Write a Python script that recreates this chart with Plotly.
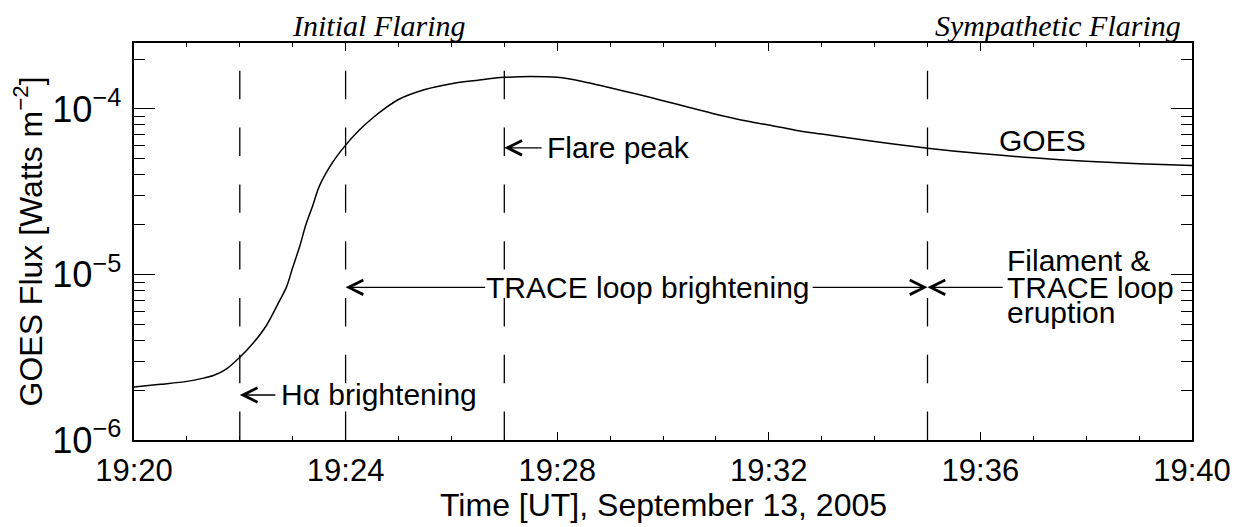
import numpy as np
import plotly.graph_objects as go

DATE = "2005-09-13 "

# GOES light curve (UT time, flux in W m^-2)
times = ["19:20:00", "19:20:30", "19:21:00", "19:21:15", "19:21:30", "19:21:45",
         "19:22:00", "19:22:15", "19:22:30", "19:22:45", "19:22:53", "19:23:00",
         "19:23:08", "19:23:15", "19:23:23", "19:23:30", "19:23:45", "19:24:00",
         "19:24:15", "19:24:30", "19:24:45", "19:25:00", "19:25:30", "19:26:00",
         "19:26:30", "19:27:00", "19:27:30", "19:28:00", "19:28:30", "19:29:00",
         "19:29:30", "19:30:00", "19:30:30", "19:31:00", "19:31:30", "19:32:00",
         "19:32:30", "19:33:00", "19:34:00", "19:35:00", "19:36:00", "19:37:00",
         "19:38:00", "19:39:00", "19:40:00"]
flux = [2.09e-6, 2.17e-6, 2.26e-6, 2.34e-6, 2.45e-6, 2.69e-6,
        3.16e-6, 3.84e-6, 4.90e-6, 6.92e-6, 8.41e-6, 1.10e-5,
        1.48e-5, 2.00e-5, 2.63e-5, 3.39e-5, 4.73e-5, 6.04e-5,
        7.41e-5, 8.75e-5, 1.01e-4, 1.14e-4, 1.31e-4, 1.42e-4,
        1.49e-4, 1.55e-4, 1.57e-4, 1.55e-4, 1.46e-4, 1.34e-4,
        1.23e-4, 1.12e-4, 1.02e-4, 9.29e-5, 8.55e-5, 7.98e-5,
        7.44e-5, 7.05e-5, 6.35e-5, 5.79e-5, 5.37e-5, 5.06e-5,
        4.83e-5, 4.67e-5, 4.55e-5]

# event marker times (dashed lines)
event_times = ["19:22:00", "19:24:00", "19:27:00", "19:35:00"]

# axis settings
x_range = ["19:20:00", "19:40:00"]
y_range = [1e-6, 2.5e-4]

# annotation text and anchors
label_goes = ("GOES", "19:37:10", 6.4e-5)
label_flare = ("Flare peak", "19:27:46", 5.82e-5)
label_halpha = ("H\u03b1 brightening", "19:22:44", 1.87e-6)
label_trace = ("TRACE loop brightening", "19:29:43", 8.36e-6)
label_fil = [("Filament &", "19:36:28", 1.21e-5),
             ("TRACE loop", "19:36:28", 8.36e-6),
             ("eruption", "19:36:28", 5.9e-6)]

# arrows: (tip time, tail time, flux level)
arrows = [("19:22:00", "19:22:42", 1.87e-6),
          ("19:27:00", "19:27:44", 5.82e-5),
          ("19:24:00", "19:26:40", 8.36e-6),
          ("19:35:00", "19:32:48", 8.36e-6),
          ("19:35:00", "19:36:27", 8.36e-6)]

SANS = "Liberation Sans, Arial, Helvetica, sans-serif"
SERIF = "Liberation Serif, Times New Roman, serif"

fig = go.Figure()

fig.add_trace(go.Scatter(
    x=[DATE + t for t in times], y=flux, mode="lines",
    line=dict(color="black", width=1.5, shape="spline", smoothing=0.9),
    showlegend=False, hoverinfo="skip"))

for t in event_times:
    fig.add_trace(go.Scatter(
        x=[DATE + t, DATE + t], y=[y_range[0], y_range[1]], mode="lines",
        line=dict(color="black", width=1.3, dash="28.4px,28.4px"),
        showlegend=False, hoverinfo="skip"))

ann = []
def text_ann(text, t, f, xanchor="left"):
    ann.append(dict(x=DATE + t, y=np.log10(f), xref="x", yref="y",
                    text=text, showarrow=False, xanchor=xanchor, yanchor="middle",
                    font=dict(family=SANS, size=30, color="black")))

text_ann(label_goes[0], label_goes[1], label_goes[2], "center")
text_ann(label_flare[0], label_flare[1], label_flare[2])
text_ann(label_halpha[0], label_halpha[1], label_halpha[2])
text_ann(label_trace[0], label_trace[1], label_trace[2], "center")
for txt, t, f in label_fil:
    text_ann(txt, t, f)

for tip, tail, f in arrows:
    ann.append(dict(x=DATE + tip, y=np.log10(f), xref="x", yref="y",
                    ax=DATE + tail, ay=np.log10(f), axref="x", ayref="y",
                    text="", showarrow=True, arrowhead=5, arrowsize=2.2,
                    arrowwidth=1.3, arrowcolor="black", standoff=0))

ann.append(dict(x=0.232, y=1.045, xref="paper", yref="paper", text="Initial Flaring",
                showarrow=False, xanchor="center", yanchor="middle",
                font=dict(family=SERIF, size=30, color="black", style="italic")))
ann.append(dict(x=0.9915, y=1.045, xref="paper", yref="paper", text="Sympathetic Flaring",
                showarrow=False, xanchor="right", yanchor="middle",
                font=dict(family=SERIF, size=30, color="black", style="italic")))

# axis titles
ann.append(dict(x=0.5, y=-0.1637, xref="paper", yref="paper",
                text="Time [UT], September 13, 2005", showarrow=False,
                xanchor="center", yanchor="middle",
                font=dict(family=SANS, size=32, color="black")))
ann.append(dict(x=-0.1002, y=0.5, xref="paper", yref="paper",
                text="GOES Flux [Watts m<sup>\u22122</sup>]", showarrow=False,
                textangle=-90, xanchor="center", yanchor="middle",
                font=dict(family=SANS, size=32, color="black")))

fig.update_layout(
    width=1242, height=519,
    margin=dict(l=126, r=58, t=35, b=87),
    plot_bgcolor="white", paper_bgcolor="white",
    font=dict(family=SANS, size=31, color="black"),
    annotations=ann,
    xaxis=dict(
        type="date", range=[DATE + x_range[0], DATE + x_range[1]],
        tickformat="%H:%M", dtick=240000, tick0=DATE + x_range[0],
        ticks="inside", ticklen=8, tickwidth=1.3, tickcolor="black",
        minor=dict(dtick=60000, ticks="inside", ticklen=4, tickwidth=1.3, tickcolor="black"),
        showline=True, linewidth=1.5, linecolor="black", mirror="allticks",
        showgrid=False, zeroline=False, automargin=False,
        tickfont=dict(family=SANS, size=31),
        ticklabelstandoff=2,
    ),
    yaxis=dict(
        type="log", range=[np.log10(y_range[0]), np.log10(y_range[1])],
        dtick=1, exponentformat="power", showexponent="all",
        ticks="inside", ticklen=21, tickwidth=1.3, tickcolor="black",
        minor=dict(dtick="D1", ticks="inside", ticklen=11, tickwidth=1.3, tickcolor="black"),
        showline=True, linewidth=1.5, linecolor="black", mirror="allticks",
        showgrid=False, zeroline=False, automargin=False,
        tickfont=dict(family=SANS, size=29),
        ticklabelstandoff=5,
    ),
)

fig.write_html("out.html")
